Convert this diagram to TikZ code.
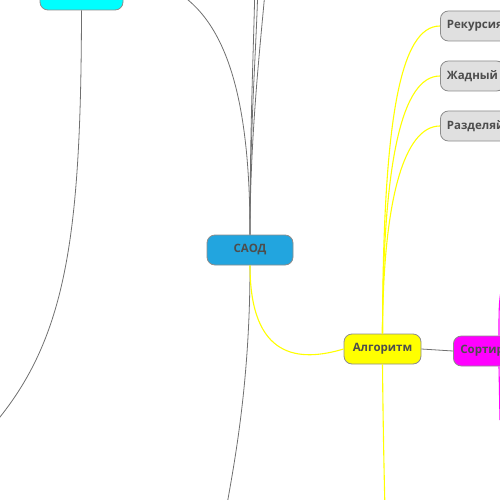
\documentclass[tikz,border=0pt]{standalone}
\usepackage{fontspec}
\setmainfont{Open Sans}
\definecolor{boxline}{HTML}{8C8C8C}
\definecolor{txt}{HTML}{4D4D4D}
\definecolor{con}{HTML}{707070}
\definecolor{saodfill}{HTML}{22A5DF}
\definecolor{grayfill}{HTML}{E0E0E0}
\definecolor{yel}{HTML}{FFFF00}
\definecolor{mag}{HTML}{FF00FF}
\definecolor{cya}{HTML}{00FFFF}
\begin{document}
\begin{tikzpicture}[x=1pt,y=-1pt,
  box/.style={draw=boxline, line width=0.8pt, rounded corners=8pt, minimum height=30pt,
    inner xsep=7pt, font=\fontsize{11.5}{14}\selectfont\bfseries, text=txt},
  gcon/.style={draw=con, line width=0.8pt},
  ycon/.style={draw=yel, line width=1.1pt},
  mcon/.style={draw=mag, line width=1.1pt}]
\useasboundingbox (0,0) rectangle (500,500);
\clip (0,0) rectangle (500,500);
% nodes
\node[box, fill=cya, minimum width=83pt, minimum height=40pt] (cyanbox) at (81.5,-10) {};
\node[box, fill=saodfill, minimum width=86pt] (saod) at (250,250) {САОД};
\node[box, fill=yel, minimum width=77pt] (alg) at (382.5,349) {Алгоритм};
\node[box, fill=mag, anchor=west, inner xsep=7pt] (sort) at (453,351) {Сортировка};
\node[box, fill=grayfill, anchor=west, inner xsep=6.5pt] (rek) at (440,26) {Рекурсия};
\node[box, fill=grayfill, anchor=west, inner xsep=6.5pt] (zhad) at (440,76) {Жадный};
\node[box, fill=grayfill, anchor=west, inner xsep=6.5pt] (razd) at (440,126) {Разделяй};
% free ends
\coordinate (top1) at (150,-20);
\coordinate (top2) at (255,-20);
\coordinate (top3) at (258,-20);
\coordinate (top4) at (266,-20);
\coordinate (bot1) at (226,510);
\coordinate (algbot) at (385,510);
\coordinate (sorttop) at (505,270);
\coordinate (sortbot) at (500,420);
\coordinate (leftbot) at (-20,440);
% connectors
\draw[gcon] (cyanbox.south) .. controls (81,250) and (65,350) .. (leftbot);
\draw[gcon] (saod.north) .. controls (250,80) and (220,0) .. (top1);
\draw[gcon] (saod.north) .. controls (250,120) and (254,40) .. (top2);
\draw[gcon] (saod.north) .. controls (250,120) and (257,40) .. (top3);
\draw[gcon] (saod.north) .. controls (250,130) and (262,30) .. (top4);
\draw[gcon] (saod.south) .. controls (250,380) and (235,460) .. (bot1);
\draw[ycon] (saod.south) .. controls (250,360) and (300,362) .. (alg.west);
\draw[gcon] (alg.east) -- (sort.west);
\draw[ycon] (alg.north) .. controls (383,120) and (400,26) .. (rek.west);
\draw[ycon] (alg.north) .. controls (383,160) and (402,76) .. (zhad.west);
\draw[ycon] (alg.north) .. controls (383,200) and (404,126) .. (razd.west);
\draw[ycon] (alg.south) .. controls (383,420) and (384,470) .. (algbot);
\draw[mcon] ([xshift=46pt]sort.north west) .. controls (499,300) .. (sorttop);
\draw[mcon] ([xshift=46pt]sort.south west) -- (sortbot);
\end{tikzpicture}
\end{document}
